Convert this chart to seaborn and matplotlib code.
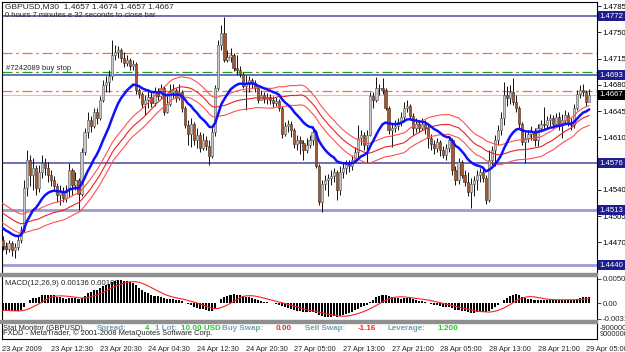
import numpy as np
import pandas as pd
import matplotlib
matplotlib.use("Agg")
import matplotlib.pyplot as plt
import seaborn as sns
from matplotlib.patches import Rectangle

# ---------------- data (GBPUSD M30) ----------------
prior_closes = [1.4547, 1.4543, 1.4551, 1.4540, 1.4537, 1.4533, 1.4540, 1.4529, 1.4527, 1.4532,
                1.4524, 1.4520, 1.4527, 1.4516, 1.4511, 1.4513, 1.4507, 1.4503, 1.4508, 1.4500,
                1.4497, 1.4492, 1.4495, 1.4489, 1.4484, 1.4487, 1.4480, 1.4476, 1.4479, 1.4473]

first_open = 1.4473

closes = [
    1.4465, 1.4461, 1.4469, 1.4460, 1.4464, 1.4473, 1.4487, 1.4543, 1.4580, 1.4560,
    1.4569, 1.4543, 1.4564, 1.4576, 1.4569, 1.4560, 1.4553, 1.4545, 1.4533, 1.4537,
    1.4529, 1.4540, 1.4567, 1.4547, 1.4553, 1.4535, 1.4591, 1.4617, 1.4633, 1.4625,
    1.4644, 1.4636, 1.4660, 1.4680, 1.4684, 1.4692, 1.4720, 1.4724, 1.4727, 1.4716,
    1.4709, 1.4713, 1.4705, 1.4708, 1.4673, 1.4668, 1.4655, 1.4660, 1.4664, 1.4656,
    1.4671, 1.4665, 1.4676, 1.4644, 1.4655, 1.4671, 1.4673, 1.4663, 1.4671, 1.4649,
    1.4627, 1.4615, 1.4628, 1.4607, 1.4613, 1.4596, 1.4607, 1.4599, 1.4585, 1.4617,
    1.4676, 1.4733, 1.4749, 1.4713, 1.4717, 1.4720, 1.4703, 1.4700, 1.4695, 1.4679,
    1.4681, 1.4687, 1.4683, 1.4676, 1.4660, 1.4667, 1.4661, 1.4664, 1.4660, 1.4656,
    1.4659, 1.4649, 1.4615, 1.4625, 1.4628, 1.4620, 1.4601, 1.4607, 1.4603, 1.4593,
    1.4600, 1.4607, 1.4617, 1.4572, 1.4524, 1.4548, 1.4553, 1.4556, 1.4559, 1.4564,
    1.4540, 1.4564, 1.4569, 1.4575, 1.4572, 1.4580, 1.4591, 1.4609, 1.4613, 1.4600,
    1.4613, 1.4665, 1.4660, 1.4676, 1.4676, 1.4673, 1.4649, 1.4620, 1.4623, 1.4625,
    1.4631, 1.4637, 1.4649, 1.4652, 1.4639, 1.4623, 1.4628, 1.4623, 1.4628, 1.4623,
    1.4609, 1.4601, 1.4596, 1.4604, 1.4593, 1.4587, 1.4596, 1.4607, 1.4567, 1.4553,
    1.4577, 1.4560, 1.4551, 1.4537, 1.4548, 1.4553, 1.4560, 1.4564, 1.4556, 1.4527,
    1.4580, 1.4593, 1.4607, 1.4620, 1.4636, 1.4667, 1.4663, 1.4671, 1.4657, 1.4649,
    1.4628, 1.4604, 1.4609, 1.4615, 1.4619, 1.4607, 1.4623, 1.4628, 1.4627, 1.4633,
    1.4636, 1.4628, 1.4637, 1.4628, 1.4633, 1.4640, 1.4631, 1.4627, 1.4649, 1.4668,
    1.4673, 1.4671, 1.4657, 1.4667]

highs = [
    1.4479, 1.4471, 1.4473, 1.4472, 1.4469, 1.4479, 1.4492, 1.4553, 1.4593, 1.4587,
    1.4583, 1.4573, 1.4573, 1.4587, 1.4583, 1.4577, 1.4567, 1.4559, 1.4549, 1.4547,
    1.4544, 1.4547, 1.4576, 1.4569, 1.4564, 1.4556, 1.4596, 1.4623, 1.4644, 1.4639,
    1.4649, 1.4649, 1.4665, 1.4687, 1.4692, 1.4700, 1.4740, 1.4733, 1.4732, 1.4729,
    1.4724, 1.4720, 1.4716, 1.4713, 1.4711, 1.4676, 1.4671, 1.4667, 1.4673, 1.4671,
    1.4677, 1.4676, 1.4681, 1.4679, 1.4665, 1.4681, 1.4681, 1.4676, 1.4681, 1.4673,
    1.4652, 1.4633, 1.4636, 1.4631, 1.4623, 1.4617, 1.4616, 1.4612, 1.4607, 1.4623,
    1.4680, 1.4740, 1.4760, 1.4771, 1.4727, 1.4729, 1.4723, 1.4720, 1.4705, 1.4697,
    1.4693, 1.4692, 1.4689, 1.4687, 1.4679, 1.4673, 1.4671, 1.4669, 1.4668, 1.4665,
    1.4664, 1.4661, 1.4652, 1.4631, 1.4633, 1.4632, 1.4623, 1.4613, 1.4612, 1.4607,
    1.4609, 1.4613, 1.4625, 1.4620, 1.4575, 1.4553, 1.4560, 1.4561, 1.4567, 1.4569,
    1.4567, 1.4572, 1.4576, 1.4580, 1.4580, 1.4587, 1.4597, 1.4627, 1.4620, 1.4617,
    1.4620, 1.4671, 1.4671, 1.4691, 1.4681, 1.4689, 1.4676, 1.4652, 1.4628, 1.4633,
    1.4636, 1.4644, 1.4657, 1.4660, 1.4655, 1.4643, 1.4636, 1.4633, 1.4636, 1.4633,
    1.4628, 1.4615, 1.4607, 1.4609, 1.4607, 1.4599, 1.4601, 1.4612, 1.4609, 1.4572,
    1.4583, 1.4580, 1.4567, 1.4564, 1.4556, 1.4559, 1.4567, 1.4569, 1.4569, 1.4560,
    1.4593, 1.4599, 1.4613, 1.4627, 1.4644, 1.4684, 1.4679, 1.4680, 1.4689, 1.4667,
    1.4652, 1.4631, 1.4617, 1.4620, 1.4625, 1.4623, 1.4628, 1.4633, 1.4651, 1.4639,
    1.4641, 1.4640, 1.4643, 1.4644, 1.4641, 1.4647, 1.4644, 1.4636, 1.4655, 1.4673,
    1.4680, 1.4681, 1.4673, 1.4674]

lows = [
    1.4460, 1.4455, 1.4457, 1.4452, 1.4449, 1.4460, 1.4469, 1.4484, 1.4532, 1.4545,
    1.4540, 1.4533, 1.4537, 1.4556, 1.4560, 1.4551, 1.4545, 1.4540, 1.4524, 1.4520,
    1.4524, 1.4524, 1.4531, 1.4533, 1.4540, 1.4513, 1.4532, 1.4587, 1.4609, 1.4617,
    1.4623, 1.4628, 1.4633, 1.4657, 1.4671, 1.4671, 1.4687, 1.4713, 1.4716, 1.4711,
    1.4704, 1.4705, 1.4700, 1.4700, 1.4668, 1.4663, 1.4649, 1.4640, 1.4649, 1.4651,
    1.4652, 1.4660, 1.4663, 1.4640, 1.4643, 1.4652, 1.4663, 1.4657, 1.4660, 1.4644,
    1.4623, 1.4600, 1.4597, 1.4600, 1.4596, 1.4591, 1.4593, 1.4593, 1.4573, 1.4583,
    1.4612, 1.4673, 1.4727, 1.4711, 1.4711, 1.4711, 1.4699, 1.4693, 1.4691, 1.4676,
    1.4647, 1.4671, 1.4676, 1.4671, 1.4656, 1.4660, 1.4656, 1.4655, 1.4655, 1.4651,
    1.4652, 1.4645, 1.4609, 1.4612, 1.4617, 1.4611, 1.4596, 1.4593, 1.4588, 1.4580,
    1.4589, 1.4596, 1.4600, 1.4569, 1.4520, 1.4511, 1.4540, 1.4532, 1.4547, 1.4551,
    1.4527, 1.4533, 1.4556, 1.4561, 1.4564, 1.4567, 1.4577, 1.4583, 1.4600, 1.4593,
    1.4576, 1.4612, 1.4649, 1.4657, 1.4667, 1.4668, 1.4647, 1.4615, 1.4597, 1.4617,
    1.4620, 1.4625, 1.4631, 1.4644, 1.4633, 1.4613, 1.4617, 1.4617, 1.4620, 1.4615,
    1.4596, 1.4593, 1.4588, 1.4591, 1.4585, 1.4583, 1.4580, 1.4591, 1.4560, 1.4547,
    1.4548, 1.4556, 1.4545, 1.4532, 1.4516, 1.4532, 1.4540, 1.4551, 1.4551, 1.4521,
    1.4524, 1.4573, 1.4572, 1.4600, 1.4613, 1.4627, 1.4652, 1.4655, 1.4653, 1.4644,
    1.4623, 1.4600, 1.4576, 1.4604, 1.4607, 1.4599, 1.4599, 1.4617, 1.4620, 1.4623,
    1.4625, 1.4623, 1.4625, 1.4620, 1.4609, 1.4628, 1.4625, 1.4620, 1.4623, 1.4647,
    1.4663, 1.4665, 1.4652, 1.4657]

level_lines = [1.4772, 1.4693, 1.4576, 1.4513, 1.4440]
order_price = 1.4697
order_sl_tp = [1.4723, 1.4672]
bid_price = 1.4667
price_ticks = [1.4785, 1.4750, 1.4715, 1.4680, 1.4645, 1.4610, 1.4540, 1.4505, 1.4470]
macd_ticks = [0.00507, 0.0, -0.00313]
macd_tick_labels = ["0.00507", "0.00", "-0.00313"]
time_labels = ["23 Apr 2009", "23 Apr 12:30", "23 Apr 20:30", "24 Apr 04:30", "24 Apr 12:30",
               "24 Apr 20:30", "27 Apr 05:00", "27 Apr 13:00", "27 Apr 21:00", "28 Apr 05:00",
               "28 Apr 13:00", "28 Apr 21:00", "29 Apr 05:00"]
label_step = 16

# ---------------- derived series (indicators computed from the candles) ----------------
n = len(closes)
idx = np.arange(n)
c = np.array(closes)
o = np.array([first_open] + closes[:-1])
h = np.array(highs)
l = np.array(lows)
full = pd.Series(prior_closes + closes)
ema_fast = full.ewm(span=16, adjust=False).mean().to_numpy()[-n:]
sma_slow = full.rolling(30, min_periods=1).mean().to_numpy()[-n:]
env = 0.0009
ema12 = full.ewm(span=12, adjust=False).mean()
ema26 = full.ewm(span=26, adjust=False).mean()
macd_full = ema12 - ema26
signal_full = macd_full.rolling(9, min_periods=1).mean()
macd = macd_full.to_numpy()[-n:]
signal = signal_full.to_numpy()[-n:]

# ---------------- figure ----------------
sns.set_style("white")
plt.rcParams["font.family"] = ["Liberation Sans", "DejaVu Sans"]
W, H = 625, 352
fig = plt.figure(figsize=(W / 100, H / 100), dpi=100)
fig.patch.set_facecolor("white")


def ax_px(x0, y0, x1, y1):
    return fig.add_axes([x0 / W, 1 - y1 / H, (x1 - x0) / W, (y1 - y0) / H])


X0, SP = 2.5, 3.04
xl = ((2 - X0) / SP, (597 - X0) / SP)
TICKFS = 5.6

# main price panel
ax = ax_px(2, 2, 597, 273)
ax.set_facecolor("white")
ax.set_xlim(*xl)
ax.set_ylim(1.4772 - (273 - 16) / 7500, 1.4772 + 14 / 7500)

for lv in level_lines:
    if lv in (1.4513, 1.4440):
        ax.axhline(lv, color="#9a9ad4", lw=2.0, zorder=1)
    else:
        ax.axhline(lv, color="#4646a8", lw=1.1, zorder=1)
ax.axhline(bid_price, color="#c8c8c8", lw=0.8, zorder=1)
for lv in order_sl_tp:
    ax.axhline(lv, color="#ff6a3a", lw=0.9, ls=(0, (8, 3, 2, 3)), zorder=1)
ax.axhline(order_price, color="#20a020", lw=0.9, ls=(0, (8, 3, 2, 3)), zorder=1)

bull = c >= o
bot = np.minimum(o, c)
ht = np.maximum(np.abs(c - o), 0.00004)
ax.vlines(idx, l, h, color="#111111", lw=0.7, zorder=3)
ax.bar(idx[bull], ht[bull], bottom=bot[bull], width=0.72, color="#c8c8c8",
       edgecolor="#505050", linewidth=0.4, zorder=4)
ax.bar(idx[~bull], ht[~bull], bottom=bot[~bull], width=0.72, color="#a9552c",
       edgecolor="#3a2a20", linewidth=0.4, zorder=4)

sns.lineplot(x=idx, y=sma_slow * (1 + env), ax=ax, color="#ff5050", lw=0.8, zorder=5)
sns.lineplot(x=idx, y=sma_slow, ax=ax, color="#ee2020", lw=0.8, zorder=5)
sns.lineplot(x=idx, y=sma_slow * (1 - env), ax=ax, color="#ff5050", lw=0.8, zorder=5)
sns.lineplot(x=idx, y=ema_fast, ax=ax, color="#1010ff", lw=1.8, zorder=6)

ax.yaxis.tick_right()
ax.set_yticks(price_ticks)
ax.set_yticklabels([f"{v:.4f}" for v in price_ticks])
ax.tick_params(axis="y", direction="out", length=3, width=0.6, labelsize=TICKFS, pad=1,
               colors="black")
ax.set_xticks([])
ax.set_xlabel("")
ax.set_ylabel("")
for s in ax.spines.values():
    s.set_color("black")
    s.set_linewidth(0.8)
ax.spines["bottom"].set_visible(False)

ax.text(3.0 / 595, 1 - 1.5 / 271, "GBPUSD,M30  1.4657 1.4674 1.4657 1.4667",
        transform=ax.transAxes, fontsize=6.0, va="top", ha="left")
ax.text(3.0 / 595, 1 - 10 / 271, "0 hours 7 minutes e 32 seconds to close bar",
        transform=ax.transAxes, fontsize=5.5, va="top", ha="left")
ax.text(1.2, order_price + 0.00004, "#7242089 buy stop", fontsize=5.5, va="bottom", ha="left")

# MACD panel
ax2 = ax_px(2, 277, 597, 320)
ax2.set_xlim(*xl)
ax2.set_ylim(-0.0034, 0.0054)
ax2.text(3.0 / 595, 0.93, "MACD(12,26,9) 0.00136 0.00108", transform=ax2.transAxes,
         fontsize=5.6, va="top", ha="left", zorder=2)
ax2.bar(idx, macd, width=0.66, color="black", linewidth=0, zorder=3)
sns.lineplot(x=idx, y=signal, ax=ax2, color="#ff2020", lw=0.8, zorder=4)
ax2.yaxis.tick_right()
ax2.set_yticks(macd_ticks)
ax2.set_yticklabels(macd_tick_labels)
ax2.tick_params(axis="y", direction="out", length=3, width=0.6, labelsize=TICKFS, pad=1)
ax2.set_xticks([])
ax2.set_xlabel("")
ax2.set_ylabel("")
for s in ax2.spines.values():
    s.set_color("black")
    s.set_linewidth(0.8)
ax2.spines["top"].set_visible(False)
ax2.spines["bottom"].set_visible(False)

# Stat monitor panel
ax3 = ax_px(2, 323, 597, 339)
ax3.set_xlim(*xl)
ax3.set_ylim(0, 1)
ax3.set_yticks([])
ax3.set_xticks(np.arange(len(time_labels)) * label_step)
ax3.set_xticklabels(time_labels)
for t in ax3.get_xticklabels():
    t.set_ha("left")
ax3.tick_params(axis="x", direction="out", length=3, width=0.6, labelsize=5.3, pad=2)
for s in ax3.spines.values():
    s.set_color("black")
    s.set_linewidth(0.8)
ax3.spines["top"].set_visible(False)

# panel separators
for y0 in (273, 320):
    fig.patches.append(Rectangle((0, 1 - (y0 + 3) / H), 597 / W, 3 / H,
                                 transform=fig.transFigure, color="#8f8f8f", zorder=10))


def ftxt(x, y, s, **kw):
    fig.text(x / W, 1 - y / H, s, va="center", ha="left", **kw)


ftxt(3, 328, "Stat Monitor (GBPUSD)", fontsize=5.4, color="#222222")
ftxt(3, 333, "FXDD - MetaTrader, \u00a9 2001-2008 MetaQuotes Software Corp.", fontsize=5.4,
     color="#222222")
teal = "#6ea3aa"
green = "#22cc22"
red = "#ff2222"
stat_parts = [(97, "Spread:", teal), (145, "4", green), (155, "1 Lot:", teal),
              (181, "10.00 USD", green), (222, "Buy Swap:", teal), (276, "0.00", red),
              (305, "Sell Swap:", teal), (358, "-1.16", red), (388, "Leverage:", teal),
              (437, "1:200", green)]
for x, s, col in stat_parts:
    ftxt(x, 329, s, fontsize=5.8, color=col, fontweight="bold")
ftxt(600, 329, "-900000", fontsize=5.3)
ftxt(600, 334, "9000000", fontsize=5.3)

# price label boxes on the right scale
for lv in level_lines:
    y = 16 + (1.4772 - lv) * 7500
    fig.text(599.5 / W, 1 - y / H, f"{lv:.4f}", fontsize=TICKFS, color="white", va="center",
             ha="left", zorder=20,
             bbox=dict(boxstyle="square,pad=0.2", fc="#1e1e8e", ec="none"))
yb = 16 + (1.4772 - bid_price) * 7500
fig.text(599.5 / W, 1 - yb / H, f"{bid_price:.4f}", fontsize=TICKFS, color="white",
         va="center", ha="left", zorder=20,
         bbox=dict(boxstyle="square,pad=0.2", fc="black", ec="none"))

fig.savefig("out.png", dpi=100, facecolor="white")
